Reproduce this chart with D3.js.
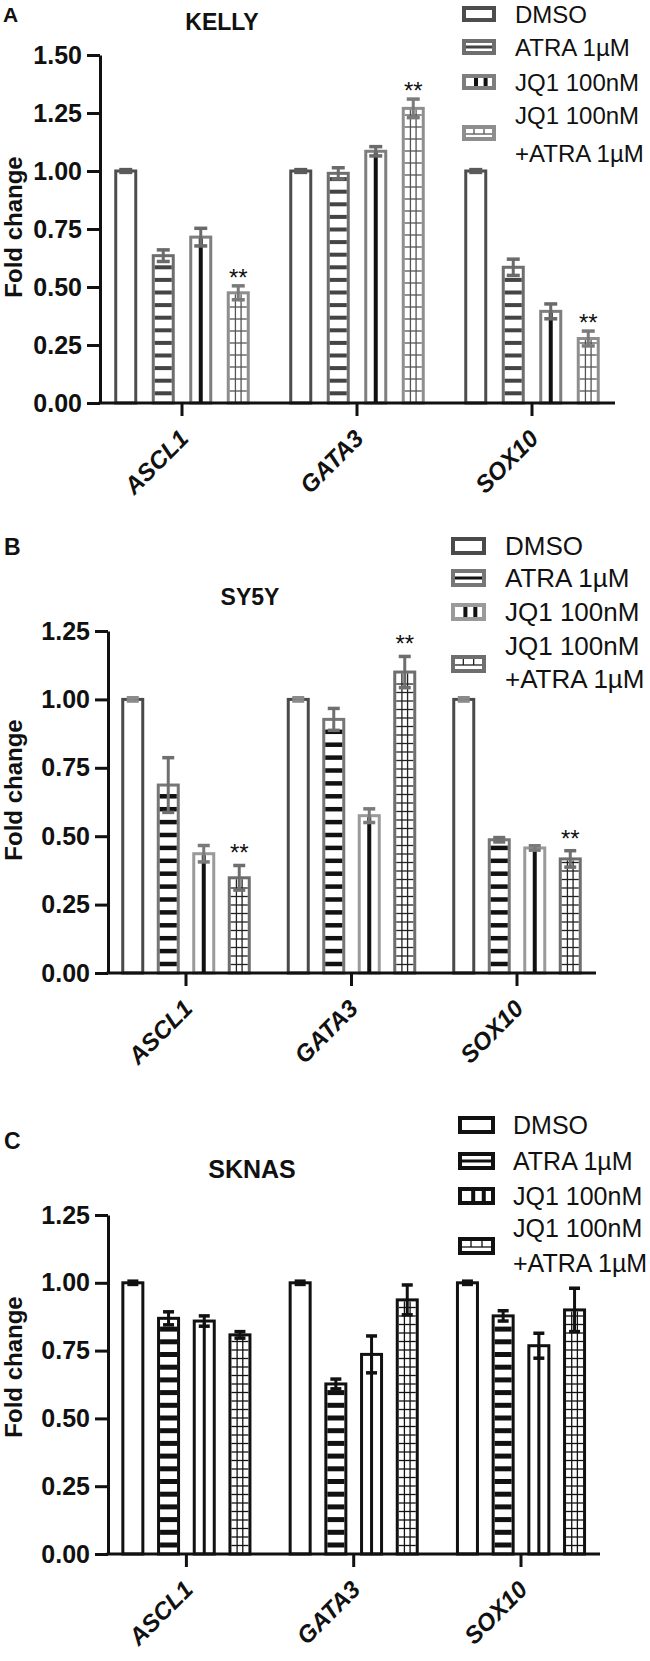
<!DOCTYPE html>
<html><head><meta charset="utf-8">
<script src="https://cdn.jsdelivr.net/npm/d3@7"></script>
<style>
body{margin:0;background:#fff}
svg{display:block}
text{font-family:"Liberation Sans",Arial,Helvetica,sans-serif}
</style>
</head><body>
<script>
// ---------------- DATA ----------------
const genes = ["ASCL1", "GATA3", "SOX10"];
const treatments = ["DMSO", "ATRA 1µM", "JQ1 100nM", "JQ1 100nM +ATRA 1µM"];
const legendLines = [["DMSO"], ["ATRA 1µM"], ["JQ1 100nM"], ["JQ1 100nM", "+ATRA 1µM"]];
const yTicksA = [0, 0.25, 0.5, 0.75, 1.0, 1.25, 1.5];
const yTicksBC = [0, 0.25, 0.5, 0.75, 1.0, 1.25];

// rows = treatment, columns = gene (ASCL1, GATA3, SOX10)
const kellyMean = [[1.00, 1.00, 1.00], [0.635, 0.99, 0.585], [0.715, 1.085, 0.395], [0.475, 1.27, 0.278]];
const kellyErr  = [[0.006, 0.006, 0.006], [0.025, 0.024, 0.035], [0.038, 0.02, 0.032], [0.03, 0.04, 0.032]];
const kellySig  = [["", "", ""], ["", "", ""], ["", "", ""], ["**", "**", "**"]];

const sy5yMean = [[1.00, 1.00, 1.00], [0.687, 0.927, 0.487], [0.436, 0.575, 0.457], [0.348, 1.10, 0.417]];
const sy5yErr  = [[0.006, 0.006, 0.006], [0.10, 0.04, 0.008], [0.03, 0.025, 0.008], [0.045, 0.057, 0.03]];
const sy5ySig  = [["", "", ""], ["", "", ""], ["", "", ""], ["**", "**", "**"]];

const sknasMean = [[1.00, 1.00, 1.00], [0.869, 0.627, 0.878], [0.859, 0.736, 0.768], [0.808, 0.937, 0.90]];
const sknasErr  = [[0.006, 0.006, 0.006], [0.024, 0.018, 0.019], [0.019, 0.068, 0.046], [0.012, 0.055, 0.08]];
const sknasSig  = [["", "", ""], ["", "", ""], ["", "", ""], ["", "", ""]];

// ---------------- DRAWING ----------------
const svg = d3.select("body").append("svg").attr("width", 650).attr("height", 1661);

function drawPanel(cfg) {
  const g = svg.append("g");
  const y = d3.scaleLinear().domain([0, cfg.ymax]).range([cfg.y0, cfg.yTop]);
  const x = d3.scaleBand().domain(genes).range(cfg.xRange).padding(0);
  const s = cfg.barStep;
  const p = 1 - cfg.barW / s;
  const xi = d3.scaleBand().domain(treatments).range([-2 * s, 2 * s]).paddingInner(p).paddingOuter(p / 2);
  const sw = 3;

  // panel letter & title
  g.append("text").attr("x", cfg.letterX).attr("y", cfg.letterY).text(cfg.letter)
    .attr("font-size", cfg.letterSize).attr("font-weight", "bold").attr("fill", "#111");
  g.append("text").attr("x", cfg.titleX).attr("y", cfg.titleY).text(cfg.title)
    .attr("text-anchor", "middle").attr("font-size", cfg.titleSize).attr("font-weight", "bold").attr("fill", "#111");

  // bars
  const bars = [];
  treatments.forEach((t, ti) => genes.forEach((gene, gi) => {
    bars.push({t, ti, gene, gi, m: cfg.mean[ti][gi], e: cfg.err[ti][gi], sig: cfg.sig[ti][gi]});
  }));
  const bx = d => x(d.gene) + x.bandwidth() / 2 + xi(d.t);
  const bw = xi.bandwidth();

  const bg = g.append("g");
  bars.forEach(d => {
    const x0 = bx(d), top = y(d.m), bot = y(0);
    const col = cfg.stroke[d.ti], pc = cfg.patColor[d.ti];
    bg.append("rect").attr("x", x0).attr("y", top).attr("width", bw).attr("height", bot - top)
      .attr("fill", "#fff").attr("stroke", col).attr("stroke-width", sw);
    const il = x0 + sw / 2, ir = x0 + bw - sw / 2, it = top + sw / 2;
    if (d.ti === 1) {
      for (let yy = bot - cfg.stripeStart; yy > it + cfg.stripeW; yy -= cfg.stripeGap) {
        bg.append("rect").attr("x", il).attr("y", yy - cfg.stripeW / 2).attr("width", ir - il)
          .attr("height", cfg.stripeW).attr("fill", pc);
      }
    } else if (d.ti === 2) {
      const cx = x0 + bw / 2;
      bg.append("line").attr("x1", cx).attr("x2", cx).attr("y1", it).attr("y2", bot)
        .attr("stroke", pc).attr("stroke-width", cfg.centerW);
    } else if (d.ti === 3) {
      const wIn = ir - il;
      [1, 2].forEach(k => {
        const xx = il + wIn * k / 3;
        bg.append("line").attr("x1", xx).attr("x2", xx).attr("y1", it).attr("y2", bot)
          .attr("stroke", pc).attr("stroke-width", 1.3);
      });
      for (let yy = bot - cfg.gridGap; yy > it + 2; yy -= cfg.gridGap) {
        bg.append("line").attr("x1", il).attr("x2", ir).attr("y1", yy).attr("y2", yy)
          .attr("stroke", pc).attr("stroke-width", 1.3);
      }
    }
    // error bar
    const cx = x0 + bw / 2, ec = cfg.errColor[d.ti], cw = cfg.capW;
    const yHi = y(d.m + d.e), yLo = y(Math.max(0, d.m - d.e));
    bg.append("line").attr("x1", cx).attr("x2", cx).attr("y1", yHi).attr("y2", yLo)
      .attr("stroke", ec).attr("stroke-width", 3);
    [yHi, yLo].forEach(yy => bg.append("line").attr("x1", cx - cw / 2).attr("x2", cx + cw / 2)
      .attr("y1", yy).attr("y2", yy).attr("stroke", ec).attr("stroke-width", 3.5));
    if (d.sig) {
      bg.append("text").attr("x", cx).attr("y", yHi + cfg.starDy).text(d.sig)
        .attr("text-anchor", "middle").attr("font-size", 24).attr("fill", "#111");
    }
  });

  // y axis
  const ya = g.append("g").attr("transform", `translate(${cfg.axisX},0)`)
    .call(d3.axisLeft(y).tickValues(cfg.ticks).tickFormat(d3.format(".2f")).tickSize(13).tickSizeOuter(0).tickPadding(5));
  ya.select(".domain").attr("stroke", "#111").attr("stroke-width", 3);
  ya.selectAll(".tick line").attr("stroke", "#111").attr("stroke-width", 3);
  ya.selectAll(".tick text").attr("font-size", 25).attr("font-weight", "bold").attr("fill", "#111")
    .attr("font-family", "Liberation Sans, Arial, sans-serif");

  // x axis
  g.append("line").attr("x1", cfg.axisX - 1.5).attr("x2", cfg.xEnd).attr("y1", cfg.y0).attr("y2", cfg.y0)
    .attr("stroke", "#111").attr("stroke-width", 3);
  genes.forEach(gene => {
    const cx = x(gene) + x.bandwidth() / 2;
    g.append("line").attr("x1", cx).attr("x2", cx).attr("y1", cfg.y0).attr("y2", cfg.y0 + 13)
      .attr("stroke", "#111").attr("stroke-width", 3);
    g.append("text").attr("transform", `translate(${cx + cfg.labDx},${cfg.y0 + cfg.labDy}) rotate(-45)`)
      .attr("text-anchor", "end").text(gene).attr("font-size", cfg.labSize)
      .attr("font-weight", "bold").attr("font-style", "italic").attr("fill", "#111");
  });

  // y label
  g.append("text").attr("transform", `translate(${cfg.ylabX},${cfg.ylabY}) rotate(-90)`)
    .attr("text-anchor", "middle").text("Fold change").attr("font-size", 24)
    .attr("font-weight", "bold").attr("fill", "#111");

  // legend
  const L = cfg.legend;
  treatments.forEach((t, ti) => {
    const cy = L.rows[ti];
    const sx = L.x, sy = cy - L.h / 2, col = cfg.stroke[ti], pc = cfg.patColor[ti];
    g.append("rect").attr("x", sx).attr("y", sy).attr("width", L.w).attr("height", L.h)
      .attr("fill", "#fff").attr("stroke", col).attr("stroke-width", 4);
    if (ti === 1) {
      g.append("line").attr("x1", sx + 2).attr("x2", sx + L.w - 2).attr("y1", cy).attr("y2", cy)
        .attr("stroke", pc).attr("stroke-width", 3);
    } else if (ti === 2) {
      [0.4, 0.72].forEach(f => g.append("rect").attr("x", sx + L.w * f - 2).attr("y", sy + 2)
        .attr("width", 4).attr("height", L.h - 4).attr("fill", pc));
    } else if (ti === 3) {
      g.append("line").attr("x1", sx + 2).attr("x2", sx + L.w - 2).attr("y1", cy + 1).attr("y2", cy + 1)
        .attr("stroke", pc).attr("stroke-width", 1.3);
      [1 / 3, 2 / 3].forEach(f => g.append("line").attr("x1", sx + L.w * f).attr("x2", sx + L.w * f)
        .attr("y1", sy + 2).attr("y2", cy + 1).attr("stroke", pc).attr("stroke-width", 1.3));
    }
    const lines = legendLines[ti];
    lines.forEach((ln, li) => {
      const ty = lines.length === 1 ? cy : L.multi[li];
      g.append("text").attr("x", L.tx).attr("y", ty).attr("dy", "0.36em").text(ln)
        .attr("font-size", L.size).attr("fill", "#111");
    });
  });
}

drawPanel({
  letter: "A", letterX: 3, letterY: 22, letterSize: 21,
  title: "KELLY", titleX: 222, titleY: 30, titleSize: 23,
  mean: kellyMean, err: kellyErr, sig: kellySig, ticks: yTicksA,
  ymax: 1.5, y0: 403, yTop: 55, axisX: 100, xEnd: 615,
  xRange: [94.5, 619.5], barStep: 37.5, barW: 20,
  stroke: ["#4d4d4d", "#6e6e6e", "#7e7e7e", "#8e8e8e"],
  errColor: ["#5a5a5a", "#6a6a6a", "#6a6a6a", "#7a7a7a"],
  patColor: [null, "#444", "#111", "#555"],
  stripeGap: 12.6, stripeW: 4, stripeStart: 9.7, centerW: 4, gridGap: 12, capW: 13, starDy: 0,
  labDx: 8, labDy: 37, labSize: 24, ylabX: 22, ylabY: 227,
  legend: {x: 464, w: 30, h: 12, rows: [14, 47, 82, 133], multi: [115, 153], tx: 515, size: 24}
});

drawPanel({
  letter: "B", letterX: 4, letterY: 555, letterSize: 23,
  title: "SY5Y", titleX: 250, titleY: 605, titleSize: 23,
  mean: sy5yMean, err: sy5yErr, sig: sy5ySig, ticks: yTicksBC,
  ymax: 1.25, y0: 973, yTop: 631, axisX: 108, xEnd: 596,
  xRange: [103.25, 599.75], barStep: 35.5, barW: 20,
  stroke: ["#4a4a4a", "#767676", "#9a9a9a", "#6e6e6e"],
  errColor: ["#8a8a8a", "#6f6f6f", "#7a7a7a", "#6e6e6e"],
  patColor: [null, "#111", "#111", "#222"],
  stripeGap: 12.9, stripeW: 4.5, stripeStart: 9, centerW: 4, gridGap: 8.5, capW: 12, starDy: -4,
  labDx: 8, labDy: 37, labSize: 24, ylabX: 22, ylabY: 790,
  legend: {x: 453, w: 31, h: 14, rows: [546, 578, 612, 664], multi: [646, 679], tx: 505, size: 26}
});

drawPanel({
  letter: "C", letterX: 4, letterY: 1149, letterSize: 23,
  title: "SKNAS", titleX: 252, titleY: 1178, titleSize: 25,
  mean: sknasMean, err: sknasErr, sig: sknasSig, ticks: yTicksBC,
  ymax: 1.25, y0: 1554, yTop: 1215, axisX: 108, xEnd: 600,
  xRange: [102.75, 604.65], barStep: 35.7, barW: 20,
  stroke: ["#111", "#111", "#111", "#111"],
  errColor: ["#111", "#111", "#111", "#111"],
  patColor: [null, "#111", "#111", "#111"],
  stripeGap: 12.7, stripeW: 5, stripeStart: 9, centerW: 3, gridGap: 8.5, capW: 11, starDy: -4,
  labDx: 8, labDy: 37, labSize: 24, ylabX: 22, ylabY: 1367,
  legend: {x: 460, w: 33, h: 14, rows: [1125, 1161, 1196, 1246], multi: [1228, 1263], tx: 513, size: 25}
});
</script>
</body></html>
